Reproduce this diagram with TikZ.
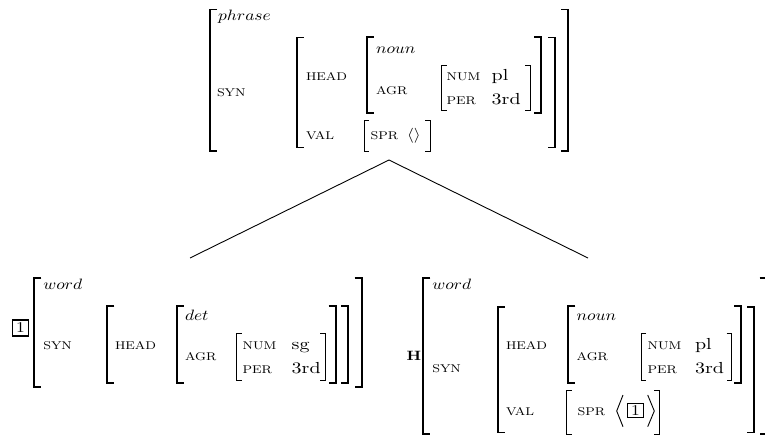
\documentclass[tikz,border=0pt]{standalone}
\usepackage{graphicx}
\newcommand{\avT}[1]{\scalebox{1.75}[1.5]{#1}}
\newcommand{\avV}[1]{\scalebox{2.0}[1.6]{#1}}
\newcommand{\avF}[1]{\avT{\fontsize{7.5}{9}\selectfont #1}}
\newcommand{\avI}[1]{\avT{$#1$}}
\newcommand{\brBL}[3]{\draw[bigbr] ({#1+7},#2) -- (#1,#2) -- (#1,#3) -- ({#1+7},#3);}
\newcommand{\brBR}[3]{\draw[bigbr] ({#1-7},#2) -- (#1,#2) -- (#1,#3) -- ({#1-7},#3);}
\newcommand{\brSL}[3]{\draw[smallbr] ({#1+5},#2) -- (#1,#2) -- (#1,#3) -- ({#1+5},#3);}
\newcommand{\brSR}[3]{\draw[smallbr] ({#1-5},#2) -- (#1,#2) -- (#1,#3) -- ({#1-5},#3);}
\tikzset{
  lbl/.style={anchor=base west, inner sep=0pt, outer sep=0pt},
  bigbr/.style={line width=1.7pt},
  smallbr/.style={line width=0.9pt},
  tagbox/.style={draw, line width=1.8pt, minimum width=16pt, minimum height=16pt, inner sep=0pt},
  branch/.style={line width=0.9pt}
}
\begin{document}
\begin{tikzpicture}[x=1pt,y=-1pt]
\useasboundingbox (0,0) rectangle (765,436);
% ---------------- top AVM ----------------
\brBL{210}{9.5}{151}
\brBR{568.3}{9.5}{151}
\brBL{296.7}{37.5}{147.5}
\brBR{555}{37.5}{147.5}
\brBL{366.7}{37}{113.3}
\brBR{541}{37}{113.3}
\brSL{441.7}{65}{110}
\brSR{530}{65}{110}
\brSL{364}{120.7}{151.7}
\brSR{430}{120.7}{151.7}
\node[lbl] (tphrase) at (218,21) {\avI{phrase}};
\node[lbl] (tsyn) at (217,96.7) {\avF{SYN}};
\node[lbl] (thead) at (306,80) {\avF{HEAD}};
\node[lbl] (tval) at (306,139.3) {\avF{VAL}};
\node[lbl] (tnoun) at (376,53.3) {\avI{noun}};
\node[lbl] (tagr) at (376,94) {\avF{AGR}};
\node[lbl] (tnum) at (446.7,80) {\avF{NUM}};
\node[lbl] (tpl) at (491.7,80) {\avV{pl}};
\node[lbl] (tper) at (446.7,104) {\avF{PER}};
\node[lbl] (t3rd) at (491.7,104) {\avV{3rd}};
\node[lbl] (tspr) at (370.7,139.3) {\avF{SPR}};
\node[lbl] (tsprv) at (407,139.3) {\avT{$\langle\rangle$}};
% ---------------- tree lines ----------------
\coordinate (apex) at (389,160);
\coordinate (ltip) at (190,258);
\coordinate (rtip) at (588,258);
\draw[branch] (apex) -- (ltip);
\draw[branch] (apex) -- (rtip);
% ---------------- bottom-left AVM ----------------
\node[tagbox] (ltag) at (20.5,328) {\avT{1}};
\brBL{34.3}{278.3}{386.7}
\brBR{361.7}{278.3}{386.7}
\brBL{107.3}{306}{383.3}
\brBR{348.3}{306}{383.3}
\brBL{176.7}{306}{383.3}
\brBR{335.7}{306}{383.3}
\brSL{236.7}{333.3}{380}
\brSR{325}{333.3}{380}
\node[lbl] (lword) at (43.3,289.3) {\avI{word}};
\node[lbl] (lsyn) at (43.3,349) {\avF{SYN}};
\node[lbl] (lhead) at (115,349) {\avF{HEAD}};
\node[lbl] (ldet) at (185,320) {\avI{det}};
\node[lbl] (lagr) at (185,360) {\avF{AGR}};
\node[lbl] (lnum) at (242.7,349) {\avF{NUM}};
\node[lbl] (lsg) at (291.7,349) {\avV{sg}};
\node[lbl] (lper) at (242.7,373.3) {\avF{PER}};
\node[lbl] (l3rd) at (291.7,373.3) {\avV{3rd}};
% ---------------- bottom-right AVM ----------------
\node[lbl] (rH) at (406.7,360.7) {\avT{\small\textbf{H}}};
\brBL{423.3}{278.3}{434}
\brBR{766.5}{278.3}{434}
\brBL{497.7}{307.3}{432.5}
\brBR{754.3}{307.3}{432.5}
\brBL{568.3}{306}{383.3}
\brBR{741}{306}{383.3}
\brSL{641}{333.3}{380}
\brSR{731.7}{333.3}{380}
\brSL{566.7}{390}{434}
\brSR{659.3}{390}{434}
\node[lbl] (rword) at (432.3,289.3) {\avI{word}};
\node[lbl] (rsyn) at (432.3,372.3) {\avF{SYN}};
\node[lbl] (rhead) at (506,349) {\avF{HEAD}};
\node[lbl] (rval) at (506,415.7) {\avF{VAL}};
\node[lbl] (rnoun) at (576.7,320) {\avI{noun}};
\node[lbl] (ragr) at (576.7,360) {\avF{AGR}};
\node[lbl] (rnum) at (647.7,349) {\avF{NUM}};
\node[lbl] (rpl) at (695,349) {\avV{pl}};
\node[lbl] (rper) at (647.7,373.3) {\avF{PER}};
\node[lbl] (r3rd) at (695,373.3) {\avV{3rd}};
\node[lbl] (rspr) at (577.7,415.7) {\avF{SPR}};
\draw[smallbr] (623,395) -- (616.7,411) -- (623,426.7);
\node[tagbox, minimum height=14pt] (rtag) at (635.5,410.5) {\avT{1}};
\draw[smallbr] (647.7,395) -- (654.3,411) -- (647.7,426.7);
\end{tikzpicture}
\end{document}
